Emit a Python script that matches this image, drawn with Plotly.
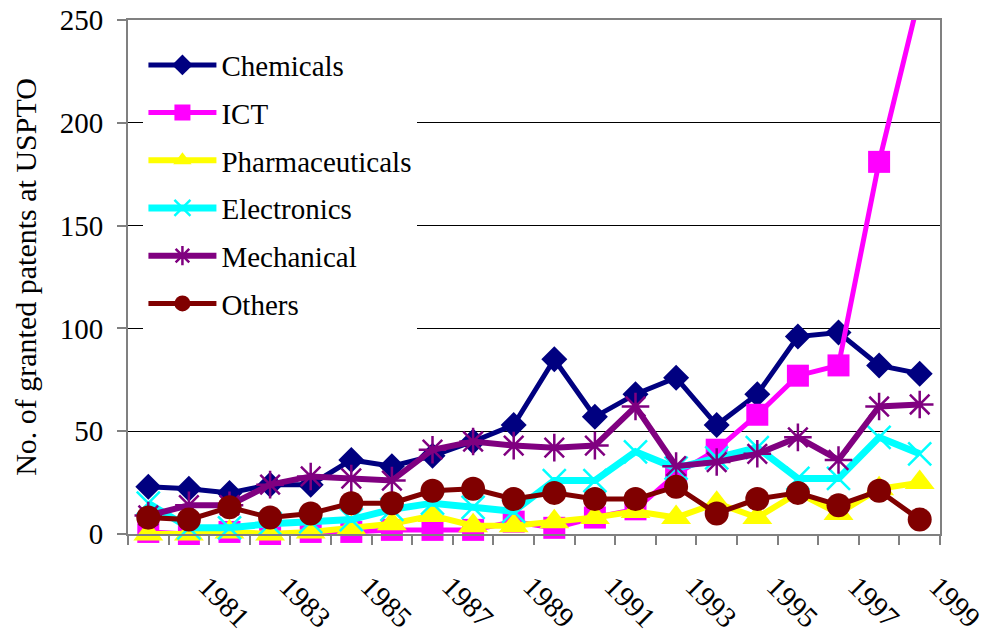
import plotly.graph_objects as go

years = list(range(1980, 2000))
tick_years = list(range(1981, 2000, 2))
tick_labels = [str(y) for y in tick_years]

chemicals = [23, 22, 20, 24, 24, 36, 33, 38, 45, 53, 85, 57, 68, 76, 53, 68, 96, 98, 82, 78]
ict = [1, 0, 1, 0, 1, 1, 2, 2, 2, 6, 3, 8, 12, 29, 41, 58, 77, 82, 181, 262]
pharmaceuticals = [0, 0, 1, 0, 1, 3, 5, 9, 4, 4, 6, 8, 11, 8, 15, 8, 20, 10, 22, 25]
electronics = [15, 3, 3, 5, 6, 7, 12, 15, 13, 11, 26, 26, 40, 32, 37, 42, 27, 27, 47, 39]
mechanical = [9, 14, 14, 24, 28, 27, 26, 41, 45, 43, 42, 43, 62, 33, 35, 39, 47, 36, 62, 63]
others = [8, 7, 13, 8, 10, 15, 15, 21, 22, 17, 20, 17, 17, 23, 10, 17, 20, 14, 21, 7]

FONT = "Liberation Serif"

series = [
    ("Chemicals", chemicals, "#000080", 5, dict(symbol="diamond", size=20, color="#000080")),
    ("ICT", ict, "#FF00FF", 5, dict(symbol="square", size=22, color="#FF00FF")),
    ("Pharmaceuticals", pharmaceuticals, "#FFFF00", 6, dict(symbol="triangle-up", size=26, color="#FFFF00")),
    ("Electronics", electronics, "#00FFFF", 7, dict(symbol="x-thin-open", size=23, color="#00FFFF",
                                                    line=dict(color="#00FFFF", width=2.5))),
    ("Mechanical", mechanical, "#800080", 6, dict(symbol="asterisk-open", size=23, color="#800080",
                                                  line=dict(color="#800080", width=2.5))),
    ("Others", others, "#800000", 5, dict(symbol="circle", size=24, color="#800000")),
]

fig = go.Figure()
for name, vals, col, lw, mk in series:
    fig.add_trace(go.Scatter(
        x=years, y=vals, name=name, mode="lines+markers",
        line=dict(color=col, width=lw), marker=mk,
        legendgroup=name, cliponaxis=False,
    ))

fig.update_layout(
    width=988, height=636,
    margin=dict(l=128, r=48, t=20, b=102, autoexpand=False),
    paper_bgcolor="white", plot_bgcolor="white",
    font=dict(family=FONT, size=29, color="black"),
    showlegend=True,
    legend=dict(
        x=0.019, y=0.962, xanchor="left", yanchor="top",
        bgcolor="white", borderwidth=0,
        font=dict(family=FONT, size=29, color="black"),
        itemwidth=68, tracegroupgap=7,
    ),
)

fig.update_xaxes(
    range=[1979.5, 1999.5], automargin=False, ticklabeloverflow="allow",
    tickmode="array", tickvals=tick_years, ticktext=tick_labels,
    tickangle=45, ticks="", showgrid=False, zeroline=False,
    showline=True, linecolor="#808080", linewidth=2, mirror=True,
    tickfont=dict(family=FONT, size=29, color="black"),
    ticklabelstandoff=22, ticklabelshift=18,
    minor=dict(tickmode="linear", tick0=1979.5, dtick=1, ticks="outside",
               ticklen=9, tickcolor="#808080", tickwidth=2, showgrid=False),
)

fig.update_yaxes(
    range=[0, 250], tickmode="linear", tick0=0, dtick=50, automargin=False,
    ticklabeloverflow="allow",
    ticks="outside", ticklen=9, tickcolor="#808080", tickwidth=2,
    showgrid=True, gridcolor="black", gridwidth=1, zeroline=False,
    showline=True, linecolor="#808080", linewidth=2, mirror=True,
    tickfont=dict(family=FONT, size=29, color="black"),
    ticklabelstandoff=8,
    title=dict(text="No. of granted patents at USPTO",
               font=dict(family=FONT, size=30, color="black"), standoff=14),
)

fig.write_html("out.html", config={"displayModeBar": False},
               post_script="document.body.style.margin='0';")
